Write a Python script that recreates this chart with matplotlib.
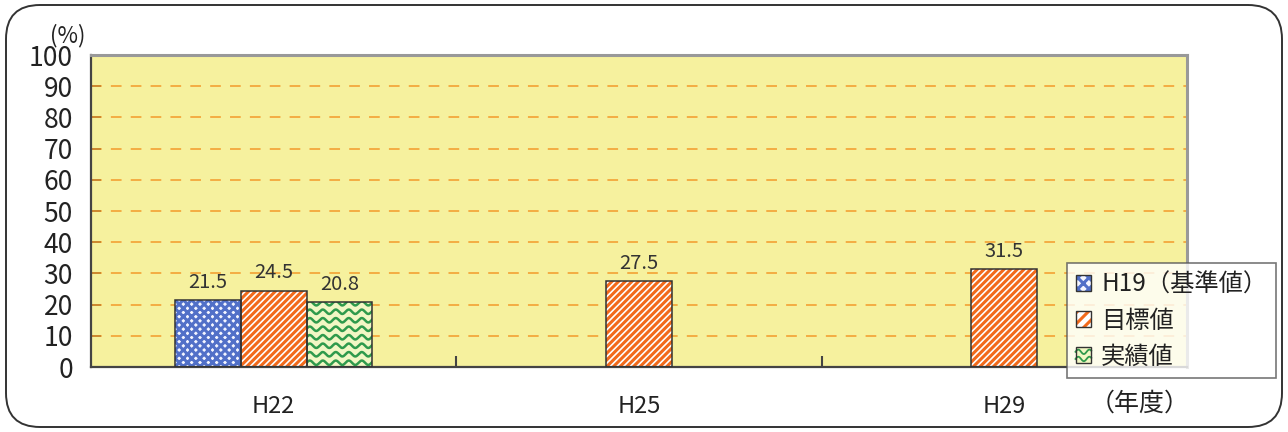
import numpy as np
import matplotlib.pyplot as plt
from matplotlib.patches import FancyBboxPatch, Rectangle, Patch
from matplotlib.legend_handler import HandlerPatch
from matplotlib.lines import Line2D

plt.rcParams['font.family'] = ['Noto Sans CJK JP', 'DejaVu Sans']
plt.rcParams['hatch.linewidth'] = 2.2

# 年度別の値 (%)
years = ['H22', 'H25', 'H29']
base_vals = [21.5, None, None]      # H19(基準値)
target_vals = [24.5, 27.5, 31.5]    # 目標値
actual_vals = [20.8, None, None]    # 実績値
series_names = ['H19（基準値）', '目標値', '実績値']
yticks = list(range(0, 101, 10))

W, H = 1288, 432
fig = plt.figure(figsize=(W / 100, H / 100), dpi=100)

# 角丸の外枠 (インチ単位)
frame = FancyBboxPatch((0.06, 0.05), W / 100 - 0.12, H / 100 - 0.10,
                       boxstyle='round,pad=0,rounding_size=0.34',
                       transform=fig.dpi_scale_trans, fc='none',
                       ec='#333333', lw=1.4, zorder=-1)
fig.patches.append(frame)

ax = fig.add_axes([91 / W, 1 - 367 / H, (1187 - 91) / W, (367 - 55) / H])
ax.set_facecolor('#f6f19e')
ax.set_xlim(-0.5, 2.5)
ax.set_ylim(0, 100)
ax.set_axisbelow(True)

bw = 0.18
x = np.arange(len(years))
px_x = 3 / (1187 - 91)
px_y = 100 / (367 - 55)

STYLES = {
    'base': dict(face='#f4f6ff', hatch='xxxx', hcolor='#5170c8'),
    'target': dict(face='white', hatch='/////', hcolor='#f26a1b'),
    'actual': dict(face='#f2f7c4', hatch=None, hcolor='#2f9a4c'),
}


def wavy_fill(ax, x0, y0, w, h, clip):
    # 波線模様をバーの形に切り抜いて描く
    xs = np.linspace(x0, x0 + w, 200)
    step = 8.5 * px_y
    amp = 2.2 * px_y
    period = 13 * px_x
    yy = y0 + step / 2
    while yy < y0 + h + step:
        ys = yy + amp * np.sin(2 * np.pi * (xs - x0) / period)
        ln, = ax.plot(xs, ys, color=STYLES['actual']['hcolor'], lw=1.8,
                      zorder=3)
        ln.set_clip_path(clip)
        yy += step


def draw_bar(xc, val, kind):
    st = STYLES[kind]
    bars = ax.bar(xc, val, bw, color=st['face'], hatch=st['hatch'],
                  edgecolor=st['hcolor'], lw=0, zorder=2)
    if kind == 'actual':
        wavy_fill(ax, xc - bw / 2, 0, bw, val, bars[0])
    ax.bar(xc, val, bw, fill=False, edgecolor='#333333', lw=1.1, zorder=4)
    ax.text(xc, val + 2.3, f'{val:.1f}', ha='center', va='bottom',
            fontsize=14.5, color='#333333', zorder=5)


for i in range(len(years)):
    if base_vals[i] is not None:
        draw_bar(x[i] - bw, base_vals[i], 'base')
        draw_bar(x[i], target_vals[i], 'target')
        draw_bar(x[i] + bw, actual_vals[i], 'actual')
    else:
        draw_bar(x[i], target_vals[i], 'target')

# 目盛線
for t in yticks[1:-1]:
    ax.axhline(t, color='#f39a2a', lw=1.1, dashes=(7, 6), zorder=1)

ax.set_yticks(yticks)
ax.set_xticks(x)
ax.set_xticklabels(years)
ax.set_xticks([0.5, 1.5], minor=True)
ax.tick_params(axis='y', direction='in', length=7, width=1.2, color='#333333',
               labelsize=19, pad=13, labelcolor='#222222')
ax.tick_params(axis='x', which='major', length=0, labelsize=17, pad=20,
               labelcolor='#222222')
ax.tick_params(axis='x', which='minor', direction='in', length=8, width=1.5,
               color='#444444')
for s in ['left', 'bottom']:
    ax.spines[s].set_color('#444444')
    ax.spines[s].set_linewidth(1.6)
for s in ['top', 'right']:
    ax.spines[s].set_color('#999999')
    ax.spines[s].set_linewidth(2.2)

fig.text(68 / W, 1 - 36 / H, '(%)', ha='center', va='center', fontsize=16,
         color='#222222')
fig.text(1140 / W, 1 - 404 / H, '（年度）', ha='center', va='center',
         fontsize=18, color='#222222')


class KeyHandler(HandlerPatch):
    # 凡例の小さな見本: 地色+模様+枠線
    def create_artists(self, legend, orig_handle, xdescent, ydescent,
                       width, height, fontsize, trans):
        st = STYLES[orig_handle.get_label()]
        x0, y0 = -xdescent, -ydescent
        hatch = st['hatch'][:3] if st['hatch'] else None
        arts = [Rectangle((x0, y0), width, height, fc=st['face'],
                          ec=st['hcolor'], hatch=hatch, lw=0,
                          transform=trans)]
        if st['hatch'] is None:
            xs = np.linspace(x0, x0 + width, 40)
            for k in (0.28, 0.72):
                ys = y0 + k * height + 1.6 * np.sin(2 * np.pi * xs / 8)
                arts.append(Line2D(xs, ys, color=st['hcolor'], lw=1.3,
                                   transform=trans))
        arts.append(Rectangle((x0, y0), width, height, fill=False,
                              ec='#333333', lw=1, transform=trans))
        return arts


handles = [Patch(label=k) for k in ('base', 'target', 'actual')]
leg = fig.legend(handles, series_names,
                 loc='upper left', bbox_to_anchor=(1067 / W, 1 - 263 / H),
                 fontsize=17.5, frameon=True, fancybox=False,
                 handlelength=0.65, handleheight=0.65, handletextpad=0.4,
                 labelspacing=0.42, borderpad=0.35, borderaxespad=0,
                 handler_map={Patch: KeyHandler()})
leg.get_frame().set_edgecolor('#555555')
leg.get_frame().set_linewidth(1.2)
leg.set_zorder(10)
for t in leg.get_texts():
    t.set_color('#222222')

fig.savefig('out.png', dpi=100)
